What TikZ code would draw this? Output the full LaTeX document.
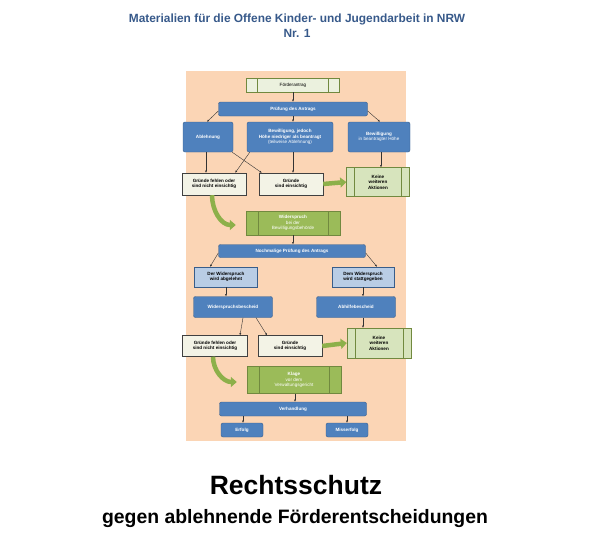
\documentclass[tikz,border=0pt]{standalone}
\usepackage{fontspec}
\setmainfont{Liberation Sans}
\usetikzlibrary{arrows.meta}
\definecolor{bgpeach}{HTML}{FBD5B5}
\definecolor{boxblue}{HTML}{4F81BD}
\definecolor{boxblueline}{HTML}{385D8A}
\definecolor{lightblue}{HTML}{B9CDE5}
\definecolor{palegreen}{HTML}{EBF1DE}
\definecolor{midgreen}{HTML}{D7E4BD}
\definecolor{darkgreen}{HTML}{9BBB59}
\definecolor{darkgreenline}{HTML}{71893F}
\definecolor{arrowgreen}{HTML}{8DB04A}
\definecolor{cream}{HTML}{F3F3E6}
\definecolor{titleblue}{HTML}{37598A}
\newcommand{\diafont}{\fontsize{4.6}{5.6}\selectfont}

\begin{document}
\begin{tikzpicture}[x=1pt, y=-1pt, >={Latex[length=2.2pt,width=2pt]},
    bluebox/.style={draw=boxblueline, fill=boxblue, text=white, rounded corners=2pt,
      font=\diafont\bfseries, align=center, inner sep=0pt},
    lightbluebox/.style={draw=boxblueline, fill=lightblue, font=\diafont\bfseries,
      align=center, inner sep=0pt},
    reasonbox/.style={draw=black!75, fill=cream, font=\diafont\bfseries, align=center,
      inner sep=0pt},
    procbox/.style={draw=darkgreenline, font=\diafont, align=center, inner sep=0pt,
      path picture={
        \draw[darkgreenline] ([xshift=#1]path picture bounding box.north west)
          -- ([xshift=#1]path picture bounding box.south west);
        \draw[darkgreenline] ([xshift=-#1]path picture bounding box.north east)
          -- ([xshift=-#1]path picture bounding box.south east);}},
    procbox/.default=11pt,
    flow/.style={->, draw=black!80, line width=0.4pt},
    bigarrow/.style={-{Triangle[width=10pt,length=6pt]}, line width=4.5pt, draw=arrowgreen}]
      \useasboundingbox (0,0) rectangle (594,538);

      % Draw the heading
      \node[font=\fontsize{11.9}{14}\selectfont\bfseries, text=titleblue, anchor=base] at (297,22.5) (kopf) {Materialien für die Offene Kinder- und Jugendarbeit in NRW};
      \node[font=\fontsize{11.9}{14}\selectfont\bfseries, text=titleblue, anchor=base] at (297,37) (nummer) {Nr. 1};

      % Draw the background
      \fill[bgpeach] (186,71) rectangle (406,441);

      % Draw the first round
      \node[procbox, fill=palegreen, minimum width=93pt, minimum height=14pt] at (293,85) (antrag) {Förderantrag};
      \node[bluebox, minimum width=149pt, minimum height=14pt] at (293,109) (pruef) {Prüfung des Antrags};
      \node[bluebox, minimum width=50pt, minimum height=30pt] at (208,137) (ablehn) {Ablehnung};
      \node[bluebox, minimum width=86pt, minimum height=30pt] at (290,137) (teilw) {Bewilligung, jedoch\\Höhe niedriger als beantragt\\{\mdseries (teilweise Ablehnung)}};
      \node[bluebox, minimum width=62pt, minimum height=30pt] at (379,137) (bewill) {Bewilligung\\{\mdseries in beantragter Höhe}};
      \node[reasonbox, minimum width=64pt, minimum height=22pt] at (214,184) (fehlenA) {Gründe fehlen oder\\sind nicht einsichtig};
      \node[reasonbox, minimum width=64pt, minimum height=22pt] at (291,184) (einsichtA) {Gründe\\sind einsichtig};
      \node[procbox=8pt, fill=midgreen, font=\diafont\bfseries, minimum width=63pt, minimum height=29pt] at (378,182) (keineA) {Keine\\weiteren\\Aktionen};

      \draw[flow] (antrag) -- (pruef);
      \draw[flow] ([yshift=-2pt]pruef.west) -- ([xshift=-1pt]ablehn.north);
      \draw[flow] (pruef.south) -- (pruef.south |- teilw.north);
      \draw[flow] ([yshift=-2pt]pruef.east) -- ([xshift=1pt]bewill.north);
      \draw[flow] ([xshift=-2pt]ablehn.south) -- ([xshift=-2pt]ablehn.south |- fehlenA.north);
      \draw[flow] ([xshift=-1pt]ablehn.south east) -- ([xshift=3pt]einsichtA.north west);
      \draw[flow] ([xshift=3pt]teilw.south west) -- ([xshift=-11pt]fehlenA.north east);
      \draw[flow] ([xshift=3pt]teilw.south) -- ([xshift=3pt]teilw.south |- einsichtA.north);
      \draw[flow] ([xshift=2pt]bewill.south) -- ([xshift=2pt]bewill.south |- keineA.north);
      \draw[bigarrow] (einsichtA.east) -- (keineA.west);

      % Draw the objection
      \node[procbox=12pt, fill=darkgreen, text=white, minimum width=94pt, minimum height=24pt] at (293,223) (wider) {\textbf{Widerspruch}\\bei der\\Bewilligungsbehörde};
      \draw[bigarrow] ([xshift=-2pt]fehlenA.south) to[out=-90, in=180] ([xshift=-10pt,yshift=-2pt]wider.west);

      \node[bluebox, minimum width=147pt, minimum height=13pt] at (292,251) (nochmal) {Nochmalige Prüfung des Antrags};
      \node[lightbluebox, minimum width=63pt, minimum height=20pt] at (226,277) (abgel) {Der Widerspruch\\wird abgelehnt};
      \node[lightbluebox, minimum width=62pt, minimum height=20pt] at (363,277) (stattg) {Dem Widerspruch\\wird stattgegeben};
      \node[bluebox, minimum width=79pt, minimum height=21pt] at (233,307) (wbescheid) {Widerspruchsbescheid};
      \node[bluebox, minimum width=79pt, minimum height=21pt] at (356,307) (abhilfe) {Abhilfebescheid};
      \node[reasonbox, minimum width=65pt, minimum height=21pt] at (215,346) (fehlenB) {Gründe fehlen oder\\sind nicht einsichtig};
      \node[reasonbox, minimum width=64pt, minimum height=21pt] at (290,346) (einsichtB) {Gründe\\sind einsichtig};
      \node[procbox=8pt, fill=midgreen, font=\diafont\bfseries, minimum width=64pt, minimum height=30pt] at (379,343) (keineB) {Keine\\weiteren\\Aktionen};

      \draw[flow] (wider.south) -- (wider.south |- nochmal.north);
      \draw[flow] ([yshift=-2pt]nochmal.west) -- ([xshift=-16pt]abgel.north);
      \draw[flow] ([yshift=-2pt]nochmal.east) -- ([xshift=14pt]stattg.north);
      \draw[flow] (abgel.south) -- (abgel.south |- wbescheid.north);
      \draw[flow] (stattg.south) -- (stattg.south |- abhilfe.north);
      \draw[flow] ([xshift=10pt]wbescheid.south) -- ([xshift=25pt]fehlenB.north);
      \draw[flow] ([xshift=23pt]wbescheid.south) -- ([xshift=-23pt]einsichtB.north);
      \draw[flow] ([xshift=7pt]abhilfe.south) -- ([xshift=7pt]abhilfe.south |- keineB.north);
      \draw[bigarrow] (einsichtB.east) -- (keineB.west);

      % Draw the lawsuit
      \node[procbox=12pt, fill=darkgreen, text=white, minimum width=94pt, minimum height=27pt] at (294,380) (klage) {\textbf{Klage}\\vor dem\\Verwaltungsgericht};
      \draw[bigarrow] ([xshift=-2pt]fehlenB.south) to[out=-90, in=180] ([xshift=-10pt,yshift=-2pt]klage.west);

      \node[bluebox, minimum width=147pt, minimum height=14pt] at (293,409) (verhandl) {Verhandlung};
      \node[bluebox, minimum width=42pt, minimum height=14pt] at (242,430) (erfolg) {Erfolg};
      \node[bluebox, minimum width=42pt, minimum height=14pt] at (347,430) (misserf) {Misserfolg};

      \draw[flow] ([xshift=1pt]klage.south) -- ([xshift=1pt]klage.south |- verhandl.north);
      \draw[flow] ([xshift=-50pt]verhandl.south) -- ([xshift=-50pt]verhandl.south |- erfolg.north);
      \draw[flow] ([xshift=54pt]verhandl.south) -- ([xshift=54pt]verhandl.south |- misserf.north);

      % Draw the title
      \node[font=\fontsize{26.5}{30}\selectfont\bfseries, anchor=base] at (296,494) (titel) {Rechtsschutz};
      \node[font=\fontsize{19.4}{22}\selectfont\bfseries, anchor=base] at (295,523) (untertitel) {gegen ablehnende Förderentscheidungen};
    \end{tikzpicture}
\end{document}
